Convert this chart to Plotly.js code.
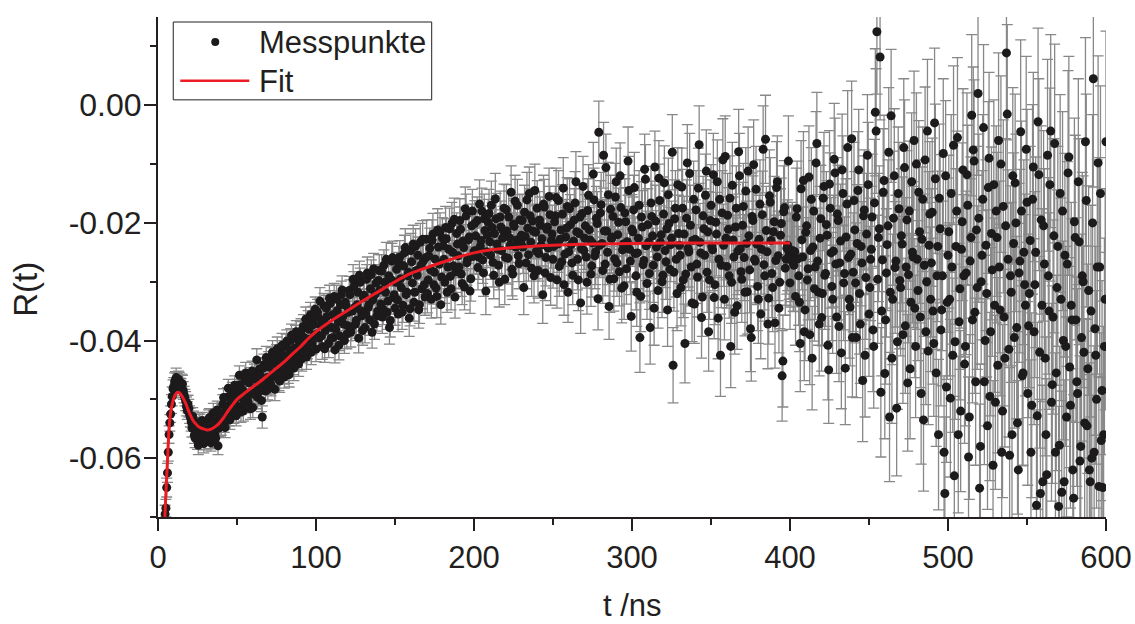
<!DOCTYPE html>
<html>
<head>
<meta charset="utf-8">
<script src="https://cdn.plot.ly/plotly-3.0.1.min.js"></script>
<style>html,body{margin:0;padding:0;background:#fff;}#chart{width:1135px;height:624px;}</style>
</head>
<body>
<div id="chart"></div>
<script>
// time axis (ns), integer samples
const tNs = [
1,2,3,4,5,6,7,8,9,10,11,12,13,14,15,16,17,18,19,20,21,22,23,24,25,
26,27,28,29,30,31,32,33,34,35,36,37,38,39,40,41,42,43,44,45,46,47,48,49,50,
51,52,53,54,55,56,57,58,59,60,61,62,63,64,65,66,67,68,69,70,71,72,73,74,75,
76,77,78,79,80,81,82,83,84,85,86,87,88,89,90,91,92,93,94,95,96,97,98,99,100,
101,102,103,104,105,106,107,108,109,110,111,112,113,114,115,116,117,118,119,120,121,122,123,124,125,
126,127,128,129,130,131,132,133,134,135,136,137,138,139,140,141,142,143,144,145,146,147,148,149,150,
151,152,153,154,155,156,157,158,159,160,161,162,163,164,165,166,167,168,169,170,171,172,173,174,175,
176,177,178,179,180,181,182,183,184,185,186,187,188,189,190,191,192,193,194,195,196,197,198,199,200,
201,202,203,204,205,206,207,208,209,210,211,212,213,214,215,216,217,218,219,220,221,222,223,224,225,
226,227,228,229,230,231,232,233,234,235,236,237,238,239,240,241,242,243,244,245,246,247,248,249,250,
251,252,253,254,255,256,257,258,259,260,261,262,263,264,265,266,267,268,269,270,271,272,273,274,275,
276,277,278,279,280,281,282,283,284,285,286,287,288,289,290,291,292,293,294,295,296,297,298,299,300,
301,302,303,304,305,306,307,308,309,310,311,312,313,314,315,316,317,318,319,320,321,322,323,324,325,
326,327,328,329,330,331,332,333,334,335,336,337,338,339,340,341,342,343,344,345,346,347,348,349,350,
351,352,353,354,355,356,357,358,359,360,361,362,363,364,365,366,367,368,369,370,371,372,373,374,375,
376,377,378,379,380,381,382,383,384,385,386,387,388,389,390,391,392,393,394,395,396,397,398,399,400,
401,402,403,404,405,406,407,408,409,410,411,412,413,414,415,416,417,418,419,420,421,422,423,424,425,
426,427,428,429,430,431,432,433,434,435,436,437,438,439,440,441,442,443,444,445,446,447,448,449,450,
451,452,453,454,455,456,457,458,459,460,461,462,463,464,465,466,467,468,469,470,471,472,473,474,475,
476,477,478,479,480,481,482,483,484,485,486,487,488,489,490,491,492,493,494,495,496,497,498,499,500,
501,502,503,504,505,506,507,508,509,510,511,512,513,514,515,516,517,518,519,520,521,522,523,524,525,
526,527,528,529,530,531,532,533,534,535,536,537,538,539,540,541,542,543,544,545,546,547,548,549,550,
551,552,553,554,555,556,557,558,559,560,561,562,563,564,565,566,567,568,569,570,571,572,573,574,575,
576,577,578,579,580,581,582,583,584,585,586,587,588,589,590,591,592,593,594,595,596,597,598,599,600
];

// measured R(t) at integer samples
const rMeas = [
-0.0900,-0.0850,-0.0800,-0.0760,-0.0685,-0.0625,-0.0560,-0.0525,-0.0495,-0.0478,
-0.0468,-0.0472,-0.0466,-0.0479,-0.0473,-0.0485,-0.0497,-0.0512,-0.0508,-0.0526,
-0.0538,-0.0529,-0.0561,-0.0547,-0.0570,-0.0541,-0.0558,-0.0536,-0.0575,-0.0552,
-0.0563,-0.0534,-0.0569,-0.0548,-0.0523,-0.0560,-0.0541,-0.0579,-0.0527,-0.0545,
-0.0508,-0.0541,-0.0515,-0.0496,-0.0530,-0.0509,-0.0488,-0.0526,-0.0499,-0.0483,
-0.0512,-0.0475,-0.0497,-0.0520,-0.0468,-0.0491,-0.0505,-0.0462,-0.0489,-0.0514,
-0.0458,-0.0481,-0.0497,-0.0449,-0.0475,-0.0530,-0.0441,-0.0486,-0.0463,-0.0437,
-0.0472,-0.0430,-0.0456,-0.0483,-0.0425,-0.0451,-0.0469,-0.0418,-0.0447,-0.0462,
-0.0409,-0.0438,-0.0458,-0.0400,-0.0429,-0.0447,-0.0394,-0.0422,-0.0440,-0.0388,
-0.0431,-0.0376,-0.0412,-0.0428,-0.0369,-0.0398,-0.0420,-0.0362,-0.0391,-0.0415,
-0.0352,-0.0396,-0.0374,-0.0410,-0.0341,-0.0383,-0.0359,-0.0405,-0.0337,-0.0378,
-0.0395,-0.0416,-0.0330,-0.0368,-0.0392,-0.0322,-0.0359,-0.0400,-0.0341,-0.0375,
-0.0315,-0.0386,-0.0350,-0.0308,-0.0372,-0.0339,-0.0396,-0.0301,-0.0358,-0.0327,
-0.0378,-0.0296,-0.0344,-0.0365,-0.0288,-0.0331,-0.0372,-0.0302,-0.0350,-0.0281,
-0.0338,-0.0360,-0.0272,-0.0318,-0.0352,-0.0290,-0.0366,-0.0265,-0.0327,-0.0345,
-0.0279,-0.0355,-0.0258,-0.0310,-0.0340,-0.0251,-0.0322,-0.0290,-0.0362,-0.0247,
-0.0302,-0.0335,-0.0240,-0.0289,-0.0348,-0.0233,-0.0312,-0.0265,-0.0326,-0.0228,
-0.0297,-0.0243,-0.0330,-0.0219,-0.0284,-0.0311,-0.0212,-0.0270,-0.0339,-0.0226,
-0.0262,-0.0208,-0.0318,-0.0245,-0.0291,-0.0201,-0.0273,-0.0326,-0.0218,-0.0256,
-0.0196,-0.0287,-0.0231,-0.0309,-0.0188,-0.0262,-0.0224,-0.0295,-0.0180,-0.0248,
-0.0222,-0.0196,-0.0258,-0.0240,-0.0180,-0.0285,-0.0213,-0.0249,-0.0199,-0.0232,
-0.0170,-0.0267,-0.0218,-0.0193,-0.0245,-0.0301,-0.0207,-0.0226,-0.0175,-0.0259,
-0.0214,-0.0190,-0.0238,-0.0279,-0.0202,-0.0163,-0.0229,-0.0256,-0.0195,-0.0221,
-0.0241,-0.0182,-0.0268,-0.0209,-0.0150,-0.0233,-0.0197,-0.0290,-0.0216,-0.0175,
-0.0252,-0.0204,-0.0227,-0.0168,-0.0285,-0.0211,-0.0243,-0.0186,-0.0230,-0.0262,
-0.0198,-0.0157,-0.0236,-0.0274,-0.0212,-0.0185,-0.0305,-0.0224,-0.0172,-0.0249,
-0.0203,-0.0268,-0.0231,-0.0166,-0.0215,-0.0297,-0.0190,-0.0244,-0.0138,-0.0226,
-0.0258,-0.0179,-0.0212,-0.0287,-0.0234,-0.0161,-0.0249,-0.0201,-0.0046,-0.0183,
-0.0235,-0.0085,-0.0270,-0.0214,-0.0152,-0.0296,-0.0227,-0.0189,-0.0261,-0.0130,
-0.0220,-0.0283,-0.0174,-0.0246,-0.0307,-0.0198,-0.0232,-0.0145,-0.0265,-0.0211,
-0.0178,-0.0252,-0.0318,-0.0226,-0.0395,-0.0190,-0.0271,-0.0109,-0.0239,-0.0203,
-0.0286,-0.0166,-0.0222,-0.0345,-0.0197,-0.0258,-0.0124,-0.0233,-0.0300,-0.0185,
-0.0247,-0.0210,-0.0152,-0.0279,-0.0226,-0.0442,-0.0193,-0.0262,-0.0135,-0.0238,
-0.0310,-0.0175,-0.0219,-0.0287,-0.0098,-0.0249,-0.0204,-0.0336,-0.0160,-0.0228,
-0.0270,-0.0141,-0.0233,-0.0361,-0.0188,-0.0255,-0.0112,-0.0215,-0.0297,-0.0170,
-0.0246,-0.0327,-0.0199,-0.0130,-0.0262,-0.0425,-0.0183,-0.0238,-0.0087,-0.0274,
-0.0211,-0.0158,-0.0301,-0.0229,-0.0352,-0.0175,-0.0248,-0.0120,-0.0283,-0.0204,
-0.0259,-0.0146,-0.0317,-0.0222,-0.0380,-0.0189,-0.0101,-0.0265,-0.0236,-0.0330,
-0.0168,-0.0245,-0.0075,-0.0290,-0.0213,-0.0372,-0.0154,-0.0230,-0.0310,-0.0198,
-0.0264,-0.0130,-0.0345,-0.0221,-0.0460,-0.0181,-0.0277,-0.0243,-0.0095,-0.0302,
-0.0254,-0.0268,-0.0249,-0.0190,-0.0261,-0.0335,-0.0142,-0.0258,-0.0385,-0.0216,
-0.0297,-0.0122,-0.0247,-0.0430,-0.0180,-0.0275,-0.0065,-0.0318,-0.0226,-0.0361,
-0.0158,-0.0289,-0.0203,-0.0408,-0.0134,-0.0251,-0.0330,-0.0092,-0.0270,-0.0185,
-0.0376,-0.0231,-0.0110,-0.0302,-0.0447,-0.0168,-0.0259,-0.0343,-0.0057,-0.0284,
-0.0212,-0.0395,-0.0145,-0.0320,-0.0240,-0.0468,-0.0178,-0.0293,-0.0085,-0.0355,
-0.0262,-0.0190,-0.0410,-0.0012,0.0125,-0.0225,0.0082,-0.0350,-0.0148,-0.0456,
-0.0285,-0.0205,-0.0530,-0.0018,-0.0330,-0.0120,-0.0265,-0.0402,-0.0176,-0.0310,
-0.0236,-0.0072,-0.0375,-0.0195,-0.0288,-0.0448,-0.0130,-0.0258,-0.0345,-0.0100,
-0.0315,-0.0215,-0.0490,-0.0160,-0.0272,-0.0385,-0.0044,-0.0238,-0.0330,-0.0182,
-0.0405,-0.0125,-0.0290,-0.0560,-0.0210,-0.0348,-0.0082,-0.0660,-0.0479,-0.0255,
-0.0330,-0.0150,-0.0425,-0.0630,-0.0240,-0.0055,-0.0368,-0.0520,-0.0198,-0.0290,
-0.0410,-0.0118,-0.0598,-0.0265,-0.0017,-0.0076,-0.0352,-0.0212,0.0020,-0.0651,
-0.0300,-0.0160,-0.0470,-0.0238,-0.0545,-0.0090,-0.0385,-0.0280,-0.0135,-0.0505,
-0.0225,-0.0060,-0.0348,-0.0590,-0.0172,-0.0430,0.0089,-0.0262,-0.0595,-0.0318,
-0.0120,-0.0395,-0.0200,-0.0540,-0.0285,-0.0045,-0.0460,-0.0250,-0.0340,-0.0165,
-0.0375,-0.0230,-0.0510,-0.0105,-0.0305,-0.0680,-0.0028,-0.0420,-0.0195,-0.0640,
-0.0270,-0.0560,-0.0085,-0.0350,-0.0044,-0.0475,-0.0222,-0.0590,-0.0310,-0.0682,
-0.0150,-0.0658,-0.0400,-0.0255,-0.0530,-0.0115,-0.0445,-0.0340,-0.0620,-0.0198,
-0.0365,-0.0490,-0.0232,-0.0580,-0.0290,-0.0420,-0.0062,-0.0545,-0.0315,-0.0640,
-0.0600,0.0045,-0.0380,-0.0500,-0.0098,-0.0275,-0.0570,-0.0650,-0.0410,-0.0062
];

// time axis (ns), half-integer samples
const tNsHalf = [
0.5,1.5,2.5,3.5,4.5,5.5,6.5,7.5,8.5,9.5,10.5,11.5,12.5,13.5,14.5,15.5,16.5,17.5,18.5,19.5,20.5,21.5,22.5,23.5,24.5,
25.5,26.5,27.5,28.5,29.5,30.5,31.5,32.5,33.5,34.5,35.5,36.5,37.5,38.5,39.5,40.5,41.5,42.5,43.5,44.5,45.5,46.5,47.5,48.5,49.5,
50.5,51.5,52.5,53.5,54.5,55.5,56.5,57.5,58.5,59.5,60.5,61.5,62.5,63.5,64.5,65.5,66.5,67.5,68.5,69.5,70.5,71.5,72.5,73.5,74.5,
75.5,76.5,77.5,78.5,79.5,80.5,81.5,82.5,83.5,84.5,85.5,86.5,87.5,88.5,89.5,90.5,91.5,92.5,93.5,94.5,95.5,96.5,97.5,98.5,99.5,
100.5,101.5,102.5,103.5,104.5,105.5,106.5,107.5,108.5,109.5,110.5,111.5,112.5,113.5,114.5,115.5,116.5,117.5,118.5,119.5,120.5,121.5,122.5,123.5,124.5,
125.5,126.5,127.5,128.5,129.5,130.5,131.5,132.5,133.5,134.5,135.5,136.5,137.5,138.5,139.5,140.5,141.5,142.5,143.5,144.5,145.5,146.5,147.5,148.5,149.5,
150.5,151.5,152.5,153.5,154.5,155.5,156.5,157.5,158.5,159.5,160.5,161.5,162.5,163.5,164.5,165.5,166.5,167.5,168.5,169.5,170.5,171.5,172.5,173.5,174.5,
175.5,176.5,177.5,178.5,179.5,180.5,181.5,182.5,183.5,184.5,185.5,186.5,187.5,188.5,189.5,190.5,191.5,192.5,193.5,194.5,195.5,196.5,197.5,198.5,199.5,
200.5,201.5,202.5,203.5,204.5,205.5,206.5,207.5,208.5,209.5,210.5,211.5,212.5,213.5,214.5,215.5,216.5,217.5,218.5,219.5,220.5,221.5,222.5,223.5,224.5,
225.5,226.5,227.5,228.5,229.5,230.5,231.5,232.5,233.5,234.5,235.5,236.5,237.5,238.5,239.5,240.5,241.5,242.5,243.5,244.5,245.5,246.5,247.5,248.5,249.5,
250.5,251.5,252.5,253.5,254.5,255.5,256.5,257.5,258.5,259.5,260.5,261.5,262.5,263.5,264.5,265.5,266.5,267.5,268.5,269.5,270.5,271.5,272.5,273.5,274.5,
275.5,276.5,277.5,278.5,279.5,280.5,281.5,282.5,283.5,284.5,285.5,286.5,287.5,288.5,289.5,290.5,291.5,292.5,293.5,294.5,295.5,296.5,297.5,298.5,299.5,
300.5,301.5,302.5,303.5,304.5,305.5,306.5,307.5,308.5,309.5,310.5,311.5,312.5,313.5,314.5,315.5,316.5,317.5,318.5,319.5,320.5,321.5,322.5,323.5,324.5,
325.5,326.5,327.5,328.5,329.5,330.5,331.5,332.5,333.5,334.5,335.5,336.5,337.5,338.5,339.5,340.5,341.5,342.5,343.5,344.5,345.5,346.5,347.5,348.5,349.5,
350.5,351.5,352.5,353.5,354.5,355.5,356.5,357.5,358.5,359.5,360.5,361.5,362.5,363.5,364.5,365.5,366.5,367.5,368.5,369.5,370.5,371.5,372.5,373.5,374.5,
375.5,376.5,377.5,378.5,379.5,380.5,381.5,382.5,383.5,384.5,385.5,386.5,387.5,388.5,389.5,390.5,391.5,392.5,393.5,394.5,395.5,396.5,397.5,398.5,399.5,
400.5,401.5,402.5,403.5,404.5,405.5,406.5,407.5,408.5,409.5,410.5,411.5,412.5,413.5,414.5,415.5,416.5,417.5,418.5,419.5,420.5,421.5,422.5,423.5,424.5,
425.5,426.5,427.5,428.5,429.5,430.5,431.5,432.5,433.5,434.5,435.5,436.5,437.5,438.5,439.5,440.5,441.5,442.5,443.5,444.5,445.5,446.5,447.5,448.5,449.5,
450.5,451.5,452.5,453.5,454.5,455.5,456.5,457.5,458.5,459.5,460.5,461.5,462.5,463.5,464.5,465.5,466.5,467.5,468.5,469.5,470.5,471.5,472.5,473.5,474.5,
475.5,476.5,477.5,478.5,479.5,480.5,481.5,482.5,483.5,484.5,485.5,486.5,487.5,488.5,489.5,490.5,491.5,492.5,493.5,494.5,495.5,496.5,497.5,498.5,499.5,
500.5,501.5,502.5,503.5,504.5,505.5,506.5,507.5,508.5,509.5,510.5,511.5,512.5,513.5,514.5,515.5,516.5,517.5,518.5,519.5,520.5,521.5,522.5,523.5,524.5,
525.5,526.5,527.5,528.5,529.5,530.5,531.5,532.5,533.5,534.5,535.5,536.5,537.5,538.5,539.5,540.5,541.5,542.5,543.5,544.5,545.5,546.5,547.5,548.5,549.5,
550.5,551.5,552.5,553.5,554.5,555.5,556.5,557.5,558.5,559.5,560.5,561.5,562.5,563.5,564.5,565.5,566.5,567.5,568.5,569.5,570.5,571.5,572.5,573.5,574.5,
575.5,576.5,577.5,578.5,579.5,580.5,581.5,582.5,583.5,584.5,585.5,586.5,587.5,588.5,589.5,590.5,591.5,592.5,593.5,594.5,595.5,596.5,597.5,598.5,599.5
];

// measured R(t) at half-integer samples
const rMeasHalf = [
-0.0950,-0.0880,-0.0820,-0.0780,-0.0695,-0.0650,-0.0590,-0.0540,-0.0508,-0.0482,
-0.0470,-0.0463,-0.0476,-0.0469,-0.0481,-0.0474,-0.0492,-0.0503,-0.0519,-0.0515,
-0.0531,-0.0549,-0.0534,-0.0566,-0.0553,-0.0578,-0.0540,-0.0562,-0.0549,-0.0571,
-0.0546,-0.0558,-0.0531,-0.0574,-0.0552,-0.0537,-0.0566,-0.0518,-0.0549,-0.0530,
-0.0525,-0.0497,-0.0548,-0.0512,-0.0481,-0.0535,-0.0503,-0.0519,-0.0476,-0.0528,
-0.0490,-0.0459,-0.0521,-0.0484,-0.0507,-0.0455,-0.0499,-0.0472,-0.0516,-0.0452,
-0.0491,-0.0466,-0.0433,-0.0488,-0.0459,-0.0502,-0.0447,-0.0474,-0.0429,-0.0483,
-0.0445,-0.0476,-0.0420,-0.0461,-0.0439,-0.0414,-0.0466,-0.0433,-0.0408,-0.0455,
-0.0427,-0.0401,-0.0452,-0.0416,-0.0391,-0.0437,-0.0413,-0.0385,-0.0429,-0.0403,
-0.0384,-0.0418,-0.0395,-0.0364,-0.0411,-0.0381,-0.0356,-0.0404,-0.0373,-0.0347,
-0.0389,-0.0361,-0.0333,-0.0392,-0.0366,-0.0414,-0.0345,-0.0374,-0.0328,-0.0396,
-0.0356,-0.0325,-0.0381,-0.0349,-0.0408,-0.0339,-0.0314,-0.0372,-0.0335,-0.0389,
-0.0352,-0.0322,-0.0377,-0.0296,-0.0344,-0.0366,-0.0318,-0.0289,-0.0350,-0.0383,
-0.0323,-0.0355,-0.0285,-0.0339,-0.0312,-0.0386,-0.0278,-0.0321,-0.0358,-0.0298,
-0.0314,-0.0282,-0.0347,-0.0301,-0.0262,-0.0333,-0.0378,-0.0296,-0.0259,-0.0322,
-0.0301,-0.0331,-0.0268,-0.0295,-0.0352,-0.0273,-0.0242,-0.0318,-0.0284,-0.0346,
-0.0266,-0.0236,-0.0318,-0.0281,-0.0255,-0.0339,-0.0272,-0.0228,-0.0305,-0.0259,
-0.0320,-0.0256,-0.0280,-0.0230,-0.0305,-0.0262,-0.0325,-0.0241,-0.0216,-0.0292,
-0.0239,-0.0301,-0.0227,-0.0275,-0.0210,-0.0312,-0.0250,-0.0194,-0.0283,-0.0236,
-0.0275,-0.0211,-0.0303,-0.0242,-0.0176,-0.0268,-0.0229,-0.0316,-0.0205,-0.0257,
-0.0201,-0.0247,-0.0276,-0.0168,-0.0230,-0.0263,-0.0193,-0.0316,-0.0221,-0.0184,
-0.0255,-0.0208,-0.0289,-0.0159,-0.0236,-0.0272,-0.0190,-0.0247,-0.0213,-0.0296,
-0.0178,-0.0260,-0.0225,-0.0148,-0.0287,-0.0206,-0.0241,-0.0170,-0.0269,-0.0232,
-0.0196,-0.0310,-0.0223,-0.0161,-0.0254,-0.0188,-0.0277,-0.0214,-0.0145,-0.0248,
-0.0281,-0.0195,-0.0238,-0.0322,-0.0173,-0.0259,-0.0207,-0.0155,-0.0293,-0.0219,
-0.0240,-0.0188,-0.0297,-0.0162,-0.0228,-0.0266,-0.0141,-0.0253,-0.0209,-0.0318,
-0.0176,-0.0237,-0.0289,-0.0195,-0.0130,-0.0262,-0.0218,-0.0336,-0.0184,-0.0247,
-0.0205,-0.0301,-0.0153,-0.0229,-0.0273,-0.0117,-0.0256,-0.0192,-0.0329,-0.0238,
-0.0169,-0.0281,-0.0214,-0.0106,-0.0250,-0.0342,-0.0177,-0.0224,-0.0295,-0.0156,
-0.0268,-0.0199,-0.0120,-0.0311,-0.0236,-0.0183,-0.0278,-0.0095,-0.0245,-0.0359,
-0.0215,-0.0140,-0.0290,-0.0251,-0.0170,-0.0325,-0.0207,-0.0264,-0.0126,-0.0303,
-0.0233,-0.0378,-0.0189,-0.0272,-0.0105,-0.0241,-0.0315,-0.0162,-0.0220,-0.0289,
-0.0132,-0.0266,-0.0348,-0.0201,-0.0237,-0.0080,-0.0284,-0.0175,-0.0320,-0.0218,
-0.0255,-0.0139,-0.0297,-0.0405,-0.0192,-0.0243,-0.0116,-0.0275,-0.0230,-0.0338,
-0.0178,-0.0292,-0.0067,-0.0251,-0.0326,-0.0210,-0.0153,-0.0284,-0.0385,-0.0196,
-0.0240,-0.0118,-0.0305,-0.0219,-0.0362,-0.0160,-0.0272,-0.0093,-0.0330,-0.0226,
-0.0187,-0.0290,-0.0410,-0.0136,-0.0258,-0.0207,-0.0341,-0.0079,-0.0244,-0.0296,
-0.0172,-0.0318,-0.0235,-0.0112,-0.0280,-0.0395,-0.0196,-0.0262,-0.0143,-0.0308,
-0.0228,-0.0355,-0.0186,-0.0271,-0.0058,-0.0249,-0.0328,-0.0165,-0.0286,-0.0215,
-0.0370,-0.0140,-0.0256,-0.0301,-0.0201,-0.0435,-0.0174,-0.0262,-0.0238,-0.0251,
-0.0263,-0.0247,-0.0272,-0.0325,-0.0176,-0.0290,-0.0405,-0.0229,-0.0128,-0.0348,
-0.0205,-0.0278,-0.0390,-0.0160,-0.0241,-0.0312,-0.0098,-0.0265,-0.0372,-0.0193,
-0.0320,-0.0138,-0.0286,-0.0221,-0.0450,-0.0175,-0.0308,-0.0248,-0.0115,-0.0360,
-0.0196,-0.0268,-0.0421,-0.0150,-0.0286,-0.0224,-0.0072,-0.0330,-0.0253,-0.0395,
-0.0162,-0.0302,-0.0235,-0.0110,-0.0372,-0.0268,-0.0188,-0.0425,-0.0219,-0.0135,
-0.0310,-0.0245,-0.0382,-0.0166,-0.0044,-0.0296,-0.0210,-0.0488,-0.0263,-0.0128,
-0.0365,-0.0237,-0.0080,-0.0318,-0.0430,-0.0192,-0.0276,-0.0515,-0.0150,-0.0298,
-0.0222,-0.0390,-0.0106,-0.0275,-0.0472,-0.0180,-0.0335,-0.0250,-0.0060,-0.0410,
-0.0262,-0.0148,-0.0360,-0.0228,-0.0535,-0.0093,-0.0300,-0.0418,-0.0185,-0.0268,
-0.0350,-0.0030,-0.0455,-0.0240,-0.0158,-0.0382,-0.0290,-0.0590,-0.0120,-0.0335,
-0.0215,-0.0498,-0.0275,-0.0068,-0.0402,-0.0180,-0.0560,-0.0312,-0.0245,-0.0110,
-0.0440,-0.0285,-0.0170,-0.0530,-0.0225,-0.0365,-0.0095,-0.0470,-0.0310,-0.0192,
-0.0580,-0.0255,-0.0038,-0.0400,-0.0320,-0.0140,-0.0495,-0.0218,-0.0612,-0.0340,
-0.0180,-0.0442,-0.0275,-0.0100,-0.0520,-0.0360,-0.0205,-0.0015,-0.0415,-0.0290,
-0.0560,-0.0235,-0.0132,-0.0378,-0.0620,-0.0265,-0.0180,-0.0455,-0.0305,-0.0075,
-0.0490,-0.0320,-0.0590,-0.0160,-0.0385,-0.0250,-0.0528,-0.0118,-0.0660,-0.0340,
-0.0205,-0.0430,-0.0628,-0.0290,-0.0135,-0.0505,-0.0360,-0.0065,-0.0455,-0.0240,
-0.0578,-0.0330,-0.0180,-0.0640,-0.0410,-0.0270,-0.0088,-0.0510,-0.0365,-0.0668,
-0.0225,-0.0470,-0.0130,-0.0605,-0.0395,-0.0300,-0.0540,-0.0162,-0.0448,-0.0620,
-0.0350,-0.0200,-0.0590,-0.0425,-0.0275,-0.0648,-0.0150,-0.0485,-0.0560,-0.0330
];

// error bars (+/-) per 1-ns bin, used for both sample sets of that bin
const rErr = [
.0015,.0015,.0015,.0015,.0015,.0016,.0015,.0014,.0016,.0015,
.0015,.0016,.0014,.0015,.0016,.0015,.0014,.0016,.0015,.0015,
.0016,.0015,.0014,.0016,.0015,.0016,.0015,.0014,.0016,.0015,
.0015,.0016,.0015,.0014,.0016,.0015,.0016,.0015,.0014,.0016,
.0016,.0015,.0017,.0016,.0015,.0016,.0017,.0015,.0016,.0017,
.0017,.0016,.0018,.0017,.0016,.0018,.0017,.0016,.0018,.0017,
.0018,.0017,.0019,.0018,.0017,.0019,.0018,.0017,.0019,.0018,
.0019,.0018,.0020,.0019,.0018,.0020,.0019,.0018,.0020,.0019,
.0020,.0019,.0021,.0020,.0019,.0021,.0020,.0019,.0021,.0020,
.0021,.0020,.0022,.0021,.0020,.0022,.0021,.0020,.0022,.0021,
.0022,.0021,.0023,.0022,.0021,.0023,.0022,.0024,.0022,.0023,
.0023,.0022,.0024,.0023,.0025,.0023,.0024,.0022,.0024,.0025,
.0024,.0025,.0023,.0025,.0024,.0026,.0025,.0024,.0026,.0025,
.0026,.0025,.0027,.0026,.0025,.0027,.0026,.0028,.0026,.0027,
.0027,.0028,.0026,.0028,.0029,.0027,.0028,.0030,.0028,.0029,
.0029,.0030,.0028,.0031,.0029,.0030,.0032,.0030,.0031,.0029,
.0031,.0032,.0030,.0033,.0031,.0032,.0034,.0032,.0031,.0033,
.0033,.0034,.0032,.0035,.0033,.0034,.0036,.0034,.0033,.0035,
.0035,.0036,.0034,.0037,.0035,.0036,.0038,.0036,.0035,.0037,
.0037,.0038,.0036,.0039,.0037,.0038,.0040,.0038,.0037,.0039,
.0039,.0040,.0038,.0041,.0039,.0040,.0042,.0040,.0039,.0041,
.0041,.0042,.0040,.0043,.0041,.0042,.0044,.0042,.0041,.0043,
.0043,.0044,.0042,.0045,.0043,.0044,.0046,.0044,.0043,.0045,
.0045,.0046,.0044,.0047,.0045,.0046,.0048,.0046,.0045,.0047,
.0047,.0048,.0046,.0049,.0047,.0048,.0050,.0048,.0047,.0049,
.0049,.0050,.0048,.0051,.0049,.0050,.0052,.0050,.0049,.0051,
.0051,.0052,.0050,.0053,.0051,.0052,.0054,.0052,.0051,.0053,
.0053,.0054,.0052,.0055,.0053,.0054,.0056,.0054,.0053,.0055,
.0055,.0056,.0054,.0057,.0055,.0056,.0058,.0056,.0055,.0057,
.0057,.0058,.0056,.0059,.0057,.0058,.0060,.0058,.0057,.0059,
.0059,.0060,.0058,.0061,.0059,.0060,.0062,.0060,.0059,.0061,
.0061,.0062,.0060,.0063,.0061,.0062,.0064,.0062,.0061,.0063,
.0063,.0064,.0062,.0065,.0063,.0064,.0066,.0064,.0063,.0065,
.0065,.0066,.0064,.0067,.0065,.0066,.0068,.0066,.0065,.0067,
.0067,.0068,.0066,.0069,.0067,.0068,.0070,.0068,.0067,.0069,
.0069,.0070,.0068,.0071,.0069,.0070,.0072,.0070,.0069,.0071,
.0071,.0072,.0070,.0073,.0071,.0072,.0074,.0072,.0071,.0073,
.0073,.0074,.0072,.0075,.0073,.0074,.0076,.0074,.0073,.0075,
.0075,.0076,.0074,.0077,.0075,.0076,.0078,.0076,.0075,.0077,
.0077,.0078,.0076,.0079,.0077,.0078,.0080,.0078,.0077,.0079,
.0080,.0082,.0079,.0083,.0081,.0084,.0082,.0085,.0083,.0086,
.0084,.0087,.0085,.0088,.0086,.0089,.0087,.0090,.0088,.0091,
.0089,.0092,.0090,.0093,.0091,.0094,.0092,.0095,.0093,.0096,
.0094,.0097,.0095,.0098,.0096,.0099,.0097,.0100,.0098,.0101,
.0099,.0102,.0100,.0103,.0101,.0104,.0102,.0105,.0103,.0106,
.0104,.0107,.0105,.0108,.0106,.0109,.0107,.0110,.0108,.0111,
.0109,.0112,.0110,.0113,.0111,.0114,.0112,.0115,.0113,.0116,
.0114,.0117,.0115,.0118,.0116,.0119,.0117,.0120,.0118,.0121,
.0119,.0122,.0120,.0123,.0121,.0124,.0122,.0125,.0123,.0126,
.0124,.0127,.0125,.0128,.0126,.0129,.0127,.0130,.0128,.0131,
.0130,.0134,.0131,.0135,.0132,.0136,.0133,.0137,.0134,.0138,
.0135,.0139,.0136,.0140,.0137,.0141,.0138,.0142,.0139,.0143,
.0140,.0144,.0141,.0145,.0142,.0146,.0143,.0147,.0144,.0148,
.0145,.0149,.0146,.0150,.0147,.0151,.0148,.0152,.0149,.0153,
.0150,.0154,.0151,.0155,.0152,.0156,.0153,.0157,.0154,.0158,
.0156,.0160,.0157,.0161,.0158,.0162,.0159,.0163,.0160,.0164,
.0162,.0166,.0163,.0167,.0164,.0168,.0165,.0169,.0166,.0170,
.0168,.0172,.0169,.0173,.0170,.0174,.0171,.0175,.0172,.0176,
.0174,.0178,.0175,.0179,.0176,.0180,.0177,.0181,.0178,.0182,
.0180,.0184,.0181,.0185,.0182,.0186,.0183,.0187,.0184,.0188
];

// fit curve
const fitT = [4.0,4.5,5.0,5.5,6.0,6.5,7.0,8.0,9.0,10,11,12,13,14,15,16.5,18,20,22,24,26,28.5,31,34,37.5,41,44,47,50,55,60,65,70,75,80,85,90,95,100,110,120,130,140,150,160,170,180,190,200,210,220,235,250,275,300,350,400];
const fitR = [-0.0745,-0.0690,-0.0660,-0.0632,-0.0605,-0.0575,-0.0548,-0.0522,-0.0508,-0.0498,-0.0492,-0.0489,-0.0488,-0.0490,-0.0494,-0.0501,-0.0510,-0.0524,-0.0535,-0.0542,-0.0547,-0.0550,-0.0552,-0.0550,-0.0544,-0.0533,-0.0521,-0.0510,-0.0500,-0.0489,-0.0479,-0.0469,-0.0458,-0.0447,-0.0436,-0.0423,-0.0411,-0.0397,-0.0385,-0.0366,-0.0349,-0.0332,-0.0316,-0.0300,-0.0286,-0.0276,-0.0267,-0.0258,-0.0251,-0.0246,-0.0243,-0.0240,-0.0238,-0.0236,-0.0235,-0.0234,-0.0234];

const yTickVals = [-0.06,-0.04,-0.02,0.00];
const yTickText = ['-0.06','-0.04','-0.02','0.00'];
const xTickVals = [0,100,200,300,400,500,600];
const xTickText = ['0','100','200','300','400','500','600'];

const FONT = 'Liberation Sans, Arial, Helvetica, sans-serif';
const INK = '#231f20';
const RED = '#ed1c24';
const DOT = '#1c1a1b';
const BAR = '#888888';

function barsTrace(x, y) {
  return {x: x, y: y, type: 'scatter', mode: 'markers', showlegend: false,
    marker: {color: 'rgba(0,0,0,0)', size: 1},
    error_y: {type: 'data', array: rErr, visible: true, color: BAR, thickness: 1.3, width: 5.5}};
}
function dotsTrace(x, y) {
  return {x: x, y: y, type: 'scatter', mode: 'markers', name: 'Messpunkte', showlegend: false,
    marker: {color: DOT, size: 9}};
}

const traces = [
  barsTrace(tNs, rMeas),
  barsTrace(tNsHalf, rMeasHalf),
  dotsTrace(tNs, rMeas),
  dotsTrace(tNsHalf, rMeasHalf),
  {
    x: fitT, y: fitR, type: 'scatter', mode: 'lines', name: 'Fit',
    line: {color: RED, width: 3, shape: 'spline', smoothing: 0.8},
    showlegend: false
  }
];

const axisCommon = {
  showline: true, linewidth: 2, linecolor: INK, mirror: false,
  ticks: 'outside', ticklen: 12, tickwidth: 2, tickcolor: INK,
  showgrid: false, zeroline: false,
  tickfont: {family: FONT, size: 31, color: INK}
};

const layout = {
  width: 1135, height: 624,
  margin: {l: 158, r: 29, t: 17, b: 107, pad: 0},
  paper_bgcolor: '#ffffff', plot_bgcolor: '#ffffff',
  showlegend: false,
  xaxis: Object.assign({}, axisCommon, {
    range: [0, 600], tickmode: 'array', tickvals: xTickVals, ticktext: xTickText,
    minor: {tickmode: 'linear', tick0: 0, dtick: 50, ticklen: 6, tickwidth: 2, tickcolor: INK, ticks: 'outside'}
  }),
  yaxis: Object.assign({}, axisCommon, {
    range: [-0.07, 0.015], tickmode: 'array', tickvals: yTickVals, ticktext: yTickText,
    ticklabelstandoff: -4,
    tickfont: {family: FONT, size: 32, color: INK},
    minor: {tickmode: 'linear', tick0: 0, dtick: 0.01, ticklen: 6, tickwidth: 2, tickcolor: INK, ticks: 'outside'}
  }),
  shapes: [
    {type: 'rect', xref: 'paper', yref: 'paper', x0: 0.0161, x1: 0.2887, y0: 0.8343, y1: 0.990,
     line: {color: INK, width: 1}, fillcolor: '#ffffff', layer: 'above'},
    {type: 'circle', xref: 'paper', yref: 'paper', xsizemode: 'pixel', ysizemode: 'pixel',
     xanchor: 0.0604, yanchor: 0.950, x0: -4, x1: 4, y0: -4, y1: 4,
     fillcolor: DOT, line: {width: 0}, layer: 'above'},
    {type: 'line', xref: 'paper', yref: 'paper', x0: 0.0235, x1: 0.0963, y0: 0.8724, y1: 0.8724,
     line: {color: RED, width: 2.6}, layer: 'above'}
  ],
  annotations: [
    {text: 'Messpunkte', xref: 'paper', yref: 'paper', x: 0.1040, y: 0.9485, xanchor: 'left', yanchor: 'middle',
     showarrow: false, font: {family: FONT, size: 31, color: INK}},
    {text: 'Fit', xref: 'paper', yref: 'paper', x: 0.1040, y: 0.8718, xanchor: 'left', yanchor: 'middle',
     showarrow: false, font: {family: FONT, size: 31, color: INK}},
    {text: 't /ns', xref: 'paper', yref: 'paper', x: 0.5, y: -0.1765, xanchor: 'center', yanchor: 'middle',
     showarrow: false, font: {family: FONT, size: 31, color: INK}},
    {text: 'R(t)', xref: 'paper', yref: 'paper', x: -0.1399, y: 0.4551, xanchor: 'center', yanchor: 'middle',
     textangle: -90, showarrow: false, font: {family: FONT, size: 33, color: INK}}
  ]
};

Plotly.newPlot('chart', traces, layout, {staticPlot: true, displayModeBar: false});
</script>
</body>
</html>
